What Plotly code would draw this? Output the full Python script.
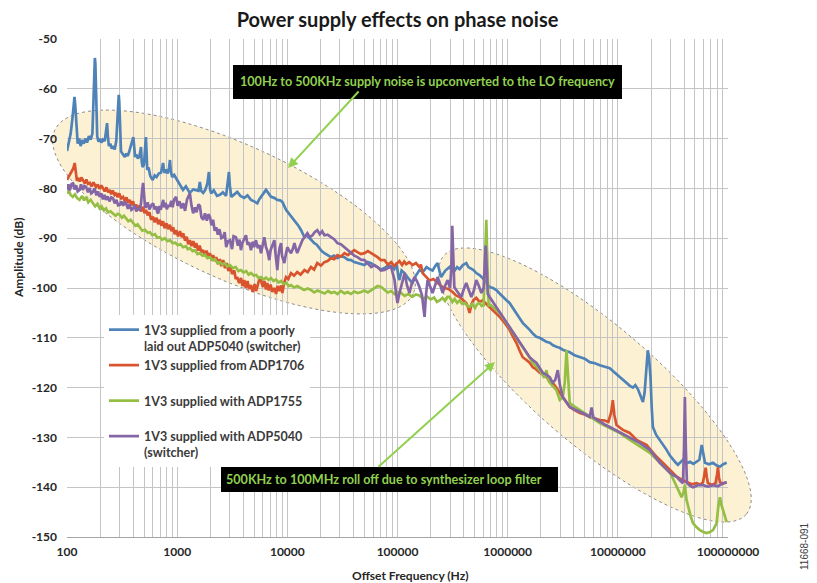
import math
import plotly.graph_objects as go

# ---------------- data: offset frequency (Hz) and amplitude (dB) ----------------
POORLY_LAID_OUT_ADP5040 = [
    (100, -72.5), (104, -71), (108, -69), (112, -66), (115, -63), (117, -61.6), (119, -63.5), (122, -69),
    (125, -71), (129, -70), (133, -71.5), (137, -70.3), (142, -71), (147, -70), (152, -70.8), (158, -69.5),
    (164, -70.2), (170, -69), (174, -63), (177, -55), (179, -53.8), (181, -55), (184, -63), (188, -69.5),
    (193, -70.6), (199, -70), (205, -70.8), (212, -70.2), (220, -70.5), (226, -68.5), (231, -66.9), (235, -69.5),
    (240, -71.5), (247, -71), (255, -72), (263, -71.5), (271, -72.2), (280, -70.5), (287, -66), (292, -61.5),
    (295, -61.2), (298, -62.5), (303, -68), (309, -72.5), (316, -72.9), (325, -73.3), (335, -73.7), (345, -73),
    (355, -73.5), (365, -72.8), (380, -71.5), (395, -70), (400, -69.7), (405, -71), (415, -73.7), (425, -73.2),
    (440, -74), (455, -73.5), (465, -72.5), (470, -71.7), (476, -74.5), (485, -75.7), (500, -75.2), (512, -72),
    (520, -69.7), (527, -72.5), (535, -76.3), (550, -75.8), (570, -77.5), (600, -78.3), (625, -77.4), (650, -77.7),
    (680, -77), (715, -76.8), (735, -75.5), (745, -74.9), (755, -76), (770, -76.9), (790, -76.2), (820, -77),
    (845, -75.8), (860, -74.3), (875, -76.5), (900, -77.7), (940, -77.3), (1000, -78.3), (1060, -79.2),
    (1130, -80.3), (1200, -79.6), (1300, -80.9), (1400, -80.2), (1490, -80.3), (1560, -80.5), (1607, -78.7),
    (1650, -80.5), (1723, -80.9), (1800, -80.3), (1880, -79), (1942, -76.7), (1990, -80.2), (2037, -81),
    (2150, -80.4), (2300, -81.5), (2444, -81.3), (2600, -80.8), (2780, -81.5), (2880, -79), (2951, -76.7),
    (3010, -79.5), (3097, -81.7), (3300, -81.2), (3511, -80.7), (3750, -81.5), (4064, -81.9), (4350, -81.4),
    (4677, -82.3), (5000, -82.6), (5337, -83), (5550, -82.2), (5768, -81.7), (6100, -80.8), (6400, -80.3),
    (6750, -81), (7108, -81.7), (7600, -81.9), (8110, -82.3), (8600, -82.4), (9016, -82.7), (9730, -84.3),
    (10300, -85), (10800, -85.7), (11400, -86.2), (12000, -87), (12700, -87.6), (13340, -88.4), (14280, -89.8),
    (15000, -89.4), (15850, -90), (16700, -90.6), (17590, -91), (18500, -91.3), (19530, -92), (20500, -92.6),
    (21680, -93), (23200, -93.4), (24930, -93.8), (26500, -93.5), (28480, -94), (30500, -93.6), (32960, -93.8),
    (35300, -94.3), (37900, -94.4), (40500, -94.8), (43290, -95), (46500, -95.1), (50120, -95.4), (53800, -94.8),
    (57650, -95), (61500, -95.5), (65770, -95.8), (70800, -96.3), (76200, -96), (81800, -95.5), (87700, -95.6),
    (93500, -96.2), (98000, -95), (102000, -97.8), (104000, -98.4), (109000, -96.5), (115800, -97),
    (125000, -98), (136800, -99), (147000, -97.5), (158500, -96.4), (170000, -96.8), (183500, -95.8),
    (195000, -96.2), (208000, -96.5), (220000, -95.6), (231000, -95), (240000, -96.5), (249000, -97.8),
    (272000, -96.5), (297000, -95.8), (313000, -96.5), (330000, -96.5), (347000, -95.8), (366000, -96.2),
    (392000, -95.4), (421000, -95), (440000, -95.8), (461000, -96), (490000, -96.4), (519000, -97),
    (555000, -97.4), (593000, -98), (640000, -99), (686000, -99.8), (735000, -100), (789000, -100.4),
    (845000, -101.1), (901000, -101.8), (970000, -102.4), (1040000, -103), (1120000, -104), (1200000, -105),
    (1280000, -106), (1370000, -107), (1470000, -107.6), (1585000, -108.4), (1700000, -109.2), (1820000, -109.8),
    (1950000, -110), (2080000, -110.4), (2240000, -110.8), (2410000, -111), (2580000, -111.5), (2770000, -111.8),
    (2960000, -112), (3160000, -112.4), (3400000, -112.6), (3660000, -112.9), (4050000, -113.5), (4520000, -113.9),
    (5000000, -114.2), (5560000, -114.9), (6200000, -115.1), (6860000, -115.5), (7600000, -115.8),
    (8450000, -116.1), (9400000, -117), (10400000, -117.9), (11200000, -118.5), (12000000, -119),
    (12800000, -119.6), (13700000, -120), (14400000, -119.5), (15200000, -120.3), (16000000, -121.5),
    (16900000, -122.9), (17500000, -121), (18000000, -117), (18700000, -112.5), (19200000, -114),
    (19800000, -118), (20300000, -124), (20800000, -127.9), (22300000, -129.5), (24100000, -130.5),
    (25800000, -131.6), (27700000, -132.5), (29600000, -133.6), (31600000, -134.5), (33300000, -135),
    (35100000, -135.5), (37000000, -135), (39000000, -134.5), (42000000, -135.2), (45200000, -134.9),
    (48500000, -135.3), (51900000, -134.9), (55000000, -134.5), (57700000, -131.5), (59500000, -133.5),
    (61800000, -135.1), (67000000, -135.4), (73100000, -135.1), (78500000, -135.6), (84500000, -135.9),
    (90500000, -135.4), (97300000, -135.1),
]

ADP1706 = [
    (100, -78.3), (103, -77.8), (106, -77.3), (110, -76.8), (114, -76), (117.5, -74.9), (120, -76.5), (123, -78.5),
    (126, -77.9), (131, -78.6), (135, -77.8), (140, -78.3), (145, -79), (150, -78.2), (155, -79.1), (161, -78.9),
    (167, -79.6), (174, -78.8), (183, -79.7), (190, -79.2), (198, -80.1), (205, -79.4), (212, -79.9), (220, -80.6),
    (228, -79.8), (236, -80.8), (244, -80.3), (252, -81.2), (260, -80.4), (270, -81.3), (279, -80.9), (288, -81.8),
    (298, -81), (310, -82), (323, -81.7), (335, -82.6), (347, -81.8), (360, -82.9), (372, -82.3), (385, -83.4),
    (398, -82.6), (410, -83.8), (424, -83.2), (440, -84.3), (455, -83.4), (470, -84.6), (491, -83.7), (505, -85),
    (522, -84.3), (540, -85.4), (560, -84.8), (580, -86.3), (605, -85.7), (625, -86.8), (650, -85.9), (672, -87.2),
    (696, -86.3), (720, -87.5), (745, -86.6), (770, -88), (800, -87), (830, -88.2), (859, -87.3), (890, -88.6),
    (920, -87.8), (950, -89.2), (979, -88.4), (1020, -89.6), (1060, -88.6), (1100, -89.8), (1135, -89),
    (1180, -90.5), (1220, -89.7), (1260, -91.2), (1304, -90.4), (1350, -91.6), (1400, -90.6), (1450, -91.9),
    (1489, -91), (1550, -92.5), (1600, -91.5), (1660, -92.8), (1723, -92.4), (1790, -93.6), (1850, -92.5),
    (1920, -93.8), (1982, -93), (2050, -94.4), (2120, -93.4), (2190, -94.6), (2263, -93.8), (2350, -95.2),
    (2440, -94.2), (2520, -95.6), (2618, -94.4), (2720, -96), (2820, -95), (2920, -96.6), (3015, -95.4),
    (3150, -97.2), (3300, -96.5), (3400, -98.2), (3511, -97.8), (3650, -99), (3800, -98), (3920, -99.6),
    (4064, -98.4), (4200, -100), (4350, -98.6), (4500, -100.2), (4677, -99.4), (4850, -100.8), (5050, -99.2),
    (5200, -100.6), (5337, -99.8), (5550, -98.3), (5768, -98.5), (6000, -99.8), (6200, -98.6), (6400, -100.3),
    (6577, -99), (6800, -100.5), (7050, -99.3), (7300, -100.8), (7620, -100), (7900, -101.2), (8150, -99.6),
    (8450, -100.6), (8770, -99.5), (9016, -101), (9350, -99), (9730, -97.8), (10200, -98.2), (10800, -97),
    (11500, -97.5), (12300, -96.8), (13200, -97.3), (14300, -96.4), (15300, -96.8), (16400, -95.8),
    (17500, -96.3), (18700, -95), (20200, -95.5), (21700, -94.8), (23200, -94.6), (24900, -94), (26600, -94.2),
    (28500, -93.4), (30600, -93.7), (33000, -93), (35400, -93.4), (37900, -92.8), (40500, -92.4), (43300, -92.8),
    (46600, -93.2), (50100, -93), (53800, -92.6), (57700, -93), (61700, -93.4), (65800, -93.8), (70800, -94.4),
    (76200, -94.4), (81800, -95.3), (87700, -94.8), (93500, -95.6), (100000, -95), (104000, -94.6),
    (110000, -95.4), (115000, -94.7), (120000, -95.2), (128000, -94.8), (137000, -95.4), (147000, -95),
    (158000, -95.8), (163000, -95.3), (169000, -97), (182000, -97.8), (195000, -98.5), (212000, -98.2),
    (231000, -99), (248000, -99.6), (267000, -100), (290000, -100.2), (316000, -100.8), (340000, -101.5),
    (366000, -101.8), (392000, -102.4), (421000, -103), (436000, -103.8), (451000, -105), (470000, -103.2),
    (490000, -102.4), (519000, -102), (555000, -102.8), (593000, -102.5), (640000, -103.2), (686000, -103.8),
    (760000, -104.8), (846000, -105.8), (940000, -107), (1040000, -108.4), (1120000, -109.8), (1200000, -111),
    (1280000, -112.5), (1370000, -113.9), (1470000, -114.4), (1585000, -115), (1690000, -115.9),
    (1810000, -116.3), (1950000, -117), (2100000, -117.3), (2250000, -117.9), (2400000, -118.5),
    (2560000, -119), (2760000, -120), (2970000, -121), (3300000, -122.6), (3660000, -123.9), (4050000, -124.5),
    (4520000, -125.1), (5000000, -125.4), (5560000, -125.9), (6200000, -126.2), (6860000, -126.5),
    (7600000, -126.6), (8200000, -126.9), (8700000, -125), (9000000, -122.5), (9300000, -125.5),
    (9730000, -127.5), (10400000, -128), (11100000, -128.5), (12000000, -128.8), (12800000, -129.1),
    (13800000, -129.8), (14800000, -130.5), (16400000, -131), (18200000, -131.5), (20200000, -132.7),
    (22500000, -133.9), (25600000, -135.1), (27600000, -135.8), (29700000, -136.5), (31900000, -137.2),
    (34200000, -137.9), (38000000, -138.5), (42200000, -139), (46800000, -139.4), (51900000, -139.2),
    (56000000, -139.5), (59300000, -139), (61200000, -137.5), (62700000, -136.1), (64200000, -138),
    (65800000, -139.2), (72000000, -139.5), (77000000, -139.2), (79500000, -137.5), (81100000, -136),
    (82800000, -138), (84500000, -139), (90000000, -139.3), (97300000, -139),
]

ADP1755 = [
    (100, -81), (104, -80.5), (108, -81.3), (113, -81.7), (118, -81.2), (124, -82), (130, -82.3), (137, -81.5),
    (143, -82.4), (149, -81.7), (156, -82.8), (164, -82.3), (172, -83), (180, -83.6), (189, -83.1), (198, -84),
    (206, -83.6), (216, -84.4), (226, -84), (236, -84.8), (248, -84.6), (262, -85), (276, -85.5), (289, -85.1),
    (301, -85.3), (315, -85.9), (329, -85.5), (344, -86), (360, -86.6), (378, -86.3), (398, -87), (418, -87.5),
    (438, -87.2), (458, -87.8), (482, -88.5), (510, -88.3), (540, -88.9), (565, -88.8), (595, -89.4),
    (628, -89.2), (660, -89.9), (696, -89.8), (730, -90.3), (770, -90), (815, -90.6), (858, -90.4), (910, -91),
    (960, -90.9), (1010, -91.4), (1070, -91.2), (1130, -91.8), (1200, -91.6), (1250, -92.2), (1304, -92),
    (1380, -92.6), (1450, -92.4), (1530, -93.2), (1608, -93), (1700, -93.5), (1790, -93.3), (1880, -94),
    (1982, -93.8), (2080, -94.4), (2200, -94.2), (2320, -95), (2444, -94.8), (2570, -95.3), (2700, -95),
    (2850, -95.7), (3015, -95.4), (3200, -96), (3400, -95.8), (3600, -96.6), (3793, -96.4), (4000, -96.9),
    (4230, -96.6), (4450, -97.3), (4677, -97), (4950, -97.5), (5220, -97.4), (5500, -98), (5768, -97.8),
    (6100, -98.3), (6400, -97.9), (6750, -98.4), (7108, -98), (7500, -98.6), (7900, -98.3), (8300, -98.9),
    (8770, -98.6), (9250, -99.2), (9800, -99), (10300, -99.6), (10800, -99.4), (11500, -99.9), (12300, -99.6),
    (13300, -100), (14200, -100.4), (15300, -100.1), (16400, -100.4), (17500, -100.9), (18800, -100.5),
    (20200, -100.8), (21800, -101.1), (23400, -100.6), (25000, -101), (26700, -100.8), (28500, -101.2),
    (30600, -100.6), (33000, -101.1), (35100, -100.8), (37800, -101.2), (40500, -100.7), (43500, -101),
    (46800, -100.8), (50000, -100.5), (53800, -100.9), (57700, -100.4), (61500, -100), (66000, -99.6),
    (71100, -99.8), (76000, -100.4), (81500, -100.9), (87700, -100.6), (94000, -101.2), (101000, -100.8),
    (108000, -101), (116000, -101.6), (125000, -101.2), (136000, -101.8), (147000, -101.3), (158000, -101.5),
    (171000, -102.2), (185000, -101.7), (200000, -102.3), (215000, -101.9), (228000, -102.8), (241000, -102.5),
    (256000, -102), (270000, -102.6), (284000, -101.8), (297000, -101.8), (315000, -102.8), (330000, -102.2),
    (348000, -103), (366000, -102.5), (388000, -103.2), (410000, -103), (430000, -103.6), (451000, -103.8),
    (478000, -103.2), (505000, -104), (530000, -103.2), (556000, -103), (580000, -103.6), (605000, -103.5),
    (623000, -96), (640000, -86.3), (656000, -96), (672000, -103.5), (700000, -103.4), (731000, -103.8),
    (780000, -104.4), (846000, -105), (910000, -106), (973000, -107), (1040000, -108), (1110000, -109),
    (1190000, -110), (1280000, -111), (1380000, -112), (1480000, -113), (1580000, -114), (1690000, -115),
    (1820000, -115.8), (1950000, -116.5), (2050000, -117.3), (2150000, -118), (2250000, -116.5),
    (2330000, -118.5), (2410000, -119), (2580000, -119.8), (2770000, -120.5), (2970000, -122.5),
    (3160000, -122), (3300000, -119), (3420000, -112.5), (3540000, -118), (3660000, -123.1), (4050000, -123.8),
    (4520000, -124.5), (5000000, -125.2), (5560000, -125.9), (6200000, -126.5), (6860000, -127.1),
    (7600000, -127.6), (8450000, -128.1), (9350000, -128.6), (10400000, -129.1), (11500000, -129.8),
    (12800000, -130.5), (14200000, -131.2), (15800000, -131.9), (17500000, -132.5), (19500000, -133.1),
    (21700000, -134.1), (24100000, -135.1), (26800000, -136.1), (29700000, -137.1), (32000000, -138.5),
    (34200000, -140), (36000000, -141), (37900000, -142), (39500000, -141), (40600000, -139.5),
    (42000000, -142.5), (43600000, -144), (45800000, -145.8), (48100000, -147.2), (51600000, -148),
    (55600000, -148.6), (59500000, -149), (64000000, -149.2), (68500000, -149), (73100000, -148.6),
    (76000000, -148), (78900000, -147.2), (81500000, -144), (84500000, -142), (87000000, -143.5),
    (90100000, -144.6), (93500000, -146), (97300000, -147),
]

ADP5040 = [
    (100, -80.3), (103, -79.2), (106, -80.4), (110, -79.1), (113, -79), (117, -80.2), (121, -79.4), (125, -80.6),
    (130, -80.3), (134, -79.2), (139, -80.3), (144, -79.5), (149, -79.7), (155, -80.8), (160, -79.9), (166, -81),
    (172, -80.7), (178, -80), (185, -81.4), (191, -80.6), (198, -81.7), (205, -81), (212, -82.2), (219, -81.3),
    (226, -82.3), (234, -81.6), (243, -82.6), (252, -81.8), (262, -82), (271, -83), (281, -82.3), (291, -83.4),
    (301, -83.3), (312, -82.6), (323, -83.5), (333, -82.8), (344, -83), (357, -84.1), (370, -83.2), (384, -84.3),
    (398, -84), (412, -83.4), (425, -84.6), (440, -84.1), (458, -84.3), (470, -83), (480, -80.5), (491, -78.9),
    (500, -81), (511, -83.7), (522, -83.7), (540, -82.8), (560, -84.2), (582, -83.4), (605, -83), (625, -84.2),
    (645, -83.6), (660, -84.8), (674, -85), (690, -83.5), (710, -84.3), (728, -83), (746, -82.3), (765, -83.8),
    (785, -82.9), (805, -84.2), (830, -83.5), (858, -83.5), (885, -82.5), (910, -83.8), (940, -82.2),
    (979, -81.7), (1010, -83.5), (1050, -82.6), (1090, -84), (1135, -83), (1180, -84.5), (1230, -82.2),
    (1270, -81.5), (1304, -81), (1350, -83.5), (1396, -85), (1450, -83.8), (1500, -84.8), (1560, -83.2),
    (1608, -83.5), (1660, -85.8), (1723, -86.3), (1790, -85), (1860, -86.5), (1920, -85.2), (1982, -85.7),
    (2050, -87.4), (2120, -86.3), (2190, -88.5), (2263, -87.8), (2340, -89.3), (2420, -88.2), (2520, -90),
    (2618, -89.8), (2700, -88.8), (2786, -91.8), (2900, -90.6), (3015, -90.4), (3150, -92.2), (3250, -89.6),
    (3417, -89.8), (3560, -91.5), (3680, -90.3), (3793, -92.4), (3900, -91), (4050, -90.2), (4215, -89.4),
    (4350, -91.3), (4500, -90.8), (4677, -92.4), (4850, -90.7), (5000, -91.8), (5190, -90.4), (5400, -92),
    (5600, -91.4), (5768, -93), (5950, -91.2), (6180, -89.8), (6400, -91.8), (6600, -92.6), (6860, -94.4),
    (7050, -92.4), (7300, -91.5), (7620, -90.4), (7800, -93), (7950, -94.8), (8110, -96.4), (8300, -93.6),
    (8500, -92), (8770, -91), (8950, -93.5), (9150, -94.2), (9397, -95), (9700, -93.2), (10000, -91.8),
    (10400, -92.5), (10800, -93), (11200, -92.2), (11600, -91), (12000, -92.3), (12300, -93), (12900, -91.8),
    (13700, -90.4), (14400, -89.7), (15200, -89), (16000, -89.8), (16900, -89.4), (17700, -88.8),
    (18700, -88.4), (19700, -89.2), (20700, -88.6), (21700, -89.4), (23200, -89.3), (24900, -89.8),
    (26600, -90.2), (28500, -91), (30600, -91.2), (33000, -91.8), (35400, -92.4), (37900, -92.8), (40500, -93.5),
    (43300, -93.8), (46600, -94.3), (50100, -94.4), (53800, -95.2), (57700, -95.8), (61700, -95.4),
    (65800, -95.8), (70800, -96.5), (76200, -96.4), (81800, -96), (87700, -95.8), (90500, -97), (94000, -98.4),
    (97000, -101), (100000, -103), (103000, -101.5), (108000, -99.8), (112000, -98), (116000, -97),
    (122000, -99.5), (128500, -101), (135000, -99), (142800, -97.8), (150000, -98.6), (158000, -99.8),
    (167000, -101.5), (176000, -105.8), (181000, -101.6), (187500, -98.4), (197000, -99.6), (208000, -101),
    (220000, -99.4), (231000, -97.8), (243000, -99.2), (256600, -101), (270000, -99.6), (285000, -98.4),
    (300000, -100), (308000, -96), (314000, -87.5), (320000, -95), (328000, -99.8), (341000, -100.4),
    (360000, -101.2), (379000, -101.8), (400000, -100.2), (421000, -99), (445000, -100.5), (468000, -101.8),
    (493000, -100.5), (519000, -98.4), (548000, -99.6), (577000, -101), (605000, -100), (620000, -95),
    (631000, -91.5), (645000, -96), (660000, -101.2), (686000, -101.8), (736000, -102.8), (789000, -103.8),
    (845000, -104.8), (901000, -105.8), (970000, -106.8), (1040000, -107.8), (1120000, -108.8),
    (1200000, -109.8), (1280000, -110.8), (1370000, -111.8), (1470000, -112.8), (1585000, -113.9),
    (1700000, -114.5), (1820000, -115), (1950000, -116), (2080000, -117), (2240000, -117.4), (2410000, -117.9),
    (2560000, -119), (2700000, -118.5), (2850000, -116.5), (2980000, -119.5), (3160000, -121.9),
    (3400000, -123), (3660000, -123.9), (4050000, -124.4), (4520000, -124.8), (5000000, -125.3),
    (5560000, -125.9), (5770000, -124), (6000000, -126), (6400000, -126.4), (6860000, -126.9),
    (7600000, -127.4), (8450000, -127.9), (9350000, -128.4), (10400000, -128.9), (11500000, -129.4),
    (12800000, -129.9), (14200000, -130.5), (15800000, -131.1), (17500000, -131.8), (19500000, -132.5),
    (21700000, -133.8), (24100000, -135.1), (26800000, -136.1), (29700000, -137.1), (32000000, -137.6),
    (34200000, -137.9), (36500000, -138.6), (39000000, -139.2), (39900000, -132), (40600000, -121.9),
    (41400000, -132), (42400000, -139.2), (45000000, -139.7), (48100000, -140), (53500000, -139.6),
    (59300000, -139.6), (66000000, -139.9), (73100000, -139.6), (81000000, -139.8), (90100000, -139.2),
    (97300000, -139),
]

SERIES_NAMES = [
    "1V3 supplied from a poorly<br>laid out ADP5040 (switcher)",
    "1V3 supplied from ADP1706<br>\u00a0",
    "1V3 supplied with ADP1755<br>\u00a0",
    "1V3 supplied with ADP5040<br>(switcher)",
]
SERIES_COLORS = ["#4f83b8", "#d9542e", "#95be45", "#8466a6"]

X_DECADES = [100, 1000, 10000, 100000, 1000000, 10000000, 100000000]
X_DECADE_LABELS = ["100", "1000", "10000", "100000", "1000000", "10000000", "100000000"]
Y_TICKS = [-50, -60, -70, -80, -90, -100, -110, -120, -130, -140, -150]

TITLE = "Power supply effects on phase noise"
NOTE_TOP = "100Hz to 500KHz supply noise is upconverted to the LO frequency"
NOTE_BOTTOM = "500KHz to 100MHz roll off due to synthesizer loop filter"

# ---------------- layout geometry (pixels of the 817x583 page) ----------------
W, H = 817, 583
PL, PR, PT, PB = 67, 728, 39, 537          # plot-area edges
FONT = "Lato"
NOTE_GREEN = "#92d050"
TEXT_DARK = "#262626"


def xp(px):
    return (px - PL) / (PR - PL)


def yp(py):
    return (PB - py) / (PB - PT)


def ellipse_path(cx, cy, a, b, angle_deg, n=120):
    t = math.radians(angle_deg)
    ca, sa = math.cos(t), math.sin(t)
    pts = []
    for i in range(n):
        u = 2 * math.pi * i / n
        ex, ey = a * math.cos(u), b * math.sin(u)
        px = cx + ex * ca - ey * sa
        py = cy + ex * sa + ey * ca
        pts.append(f"{xp(px):.5f},{yp(py):.5f}")
    return "M" + " L".join(pts) + " Z"


fig = go.Figure()
for name, color, data in zip(SERIES_NAMES, SERIES_COLORS,
                             [POORLY_LAID_OUT_ADP5040, ADP1706, ADP1755, ADP5040]):
    f, a = zip(*data)
    fig.add_trace(go.Scatter(x=list(f), y=list(a), mode="lines", name=name,
                             line=dict(color=color, width=2.7)))

# minor gridlines at every 1..9 multiple of each decade, labels only on decades
tick_vals, tick_text = [], []
for d, lab in zip(X_DECADES, X_DECADE_LABELS):
    tick_vals.append(d)
    tick_text.append(f"<b>{lab}</b>")
    if d < X_DECADES[-1]:
        for m in range(2, 10):
            tick_vals.append(d * m)
            tick_text.append("")

shapes = [
    dict(type="path", xref="paper", yref="paper", layer="below",
         path=ellipse_path(234, 212, 197, 67, 24.5),
         fillcolor="#fdf1d4", line=dict(color="#8c8c8c", width=1, dash="dot")),
    dict(type="path", xref="paper", yref="paper", layer="below",
         path=ellipse_path(595, 385, 199, 60, 40.5),
         fillcolor="#fdf1d4", line=dict(color="#8c8c8c", width=1, dash="dot")),
    dict(type="rect", xref="paper", yref="paper", layer="above",
         x0=xp(233), x1=xp(622), y0=yp(99), y1=yp(65), fillcolor="black", line=dict(width=0)),
    dict(type="rect", xref="paper", yref="paper", layer="above",
         x0=xp(221), x1=xp(558), y0=yp(492), y1=yp(467), fillcolor="black", line=dict(width=0)),
]

annotations = [
    dict(text=f"<b>{NOTE_TOP}</b>", xref="paper", yref="paper", x=xp(427.5), y=yp(81),
         xanchor="center", yanchor="middle", showarrow=False,
         font=dict(family=FONT, size=12.6, color=NOTE_GREEN)),
    dict(text=f"<b>{NOTE_BOTTOM}</b>", xref="paper", yref="paper", x=xp(384), y=yp(479.5),
         xanchor="center", yanchor="middle", showarrow=False,
         font=dict(family=FONT, size=12.6, color=NOTE_GREEN)),
    dict(text="", xref="paper", yref="paper", x=xp(288), y=yp(168), ax=72, ay=-78,
         showarrow=True, arrowhead=2, arrowsize=1, arrowwidth=2, arrowcolor=NOTE_GREEN),
    dict(text="", xref="paper", yref="paper", x=xp(495), y=yp(362), ax=-118, ay=106,
         showarrow=True, arrowhead=2, arrowsize=1, arrowwidth=2, arrowcolor=NOTE_GREEN),
    dict(text="<b>Amplitude (dB)</b>", xref="paper", yref="paper", x=xp(18), y=yp(258),
         xanchor="center", yanchor="middle", textangle=-90, showarrow=False,
         font=dict(family=FONT, size=12, color=TEXT_DARK)),
    dict(text="<b>Offset Frequency (Hz)</b>", xref="paper", yref="paper", x=xp(410), y=yp(575),
         xanchor="center", yanchor="middle", showarrow=False,
         font=dict(family=FONT, size=12, color=TEXT_DARK)),
    dict(text="11668-091", xref="paper", yref="paper", x=xp(804), y=yp(546),
         xanchor="center", yanchor="middle", textangle=-90, showarrow=False,
         font=dict(family="Liberation Sans", size=10, color="#404040")),
]

fig.update_layout(
    width=W, height=H,
    margin=dict(l=PL, r=W - PR, t=PT, b=H - PB, pad=0),
    paper_bgcolor="white", plot_bgcolor="rgba(0,0,0,0)",
    title=dict(text=f"<b>{TITLE}</b>", x=0.5, xref="paper", xanchor="center",
               y=1 - 20 / H, yref="container", yanchor="middle",
               font=dict(family=FONT, size=20, color="#1a1a1a")),
    xaxis=dict(type="log", range=[2, 8], tickmode="array", tickvals=tick_vals, ticktext=tick_text,
               showgrid=True, gridcolor="#c4c4c4", gridwidth=1, zeroline=False,
               showline=True, linecolor="#a6a6a6", linewidth=1, ticks="",
               tickfont=dict(family=FONT, size=12, color=TEXT_DARK), ticklabelstandoff=4),
    yaxis=dict(range=[-150, -50], tickmode="array", tickvals=Y_TICKS,
               ticktext=[f"<b>{v}</b>" for v in Y_TICKS],
               showgrid=True, gridcolor="#c4c4c4", gridwidth=1, zeroline=False,
               showline=False, ticks="", tickfont=dict(family=FONT, size=12, color=TEXT_DARK),
               ticklabelstandoff=9),
    legend=dict(x=xp(104), y=yp(315), xanchor="left", yanchor="top",
                bgcolor="white", borderwidth=0, valign="top", tracegroupgap=0,
                itemwidth=30, font=dict(family=FONT, size=12.5, color="#3a3a3a", weight="bold")),
    shapes=shapes,
    annotations=annotations,
)

fig.write_html("out.html")
